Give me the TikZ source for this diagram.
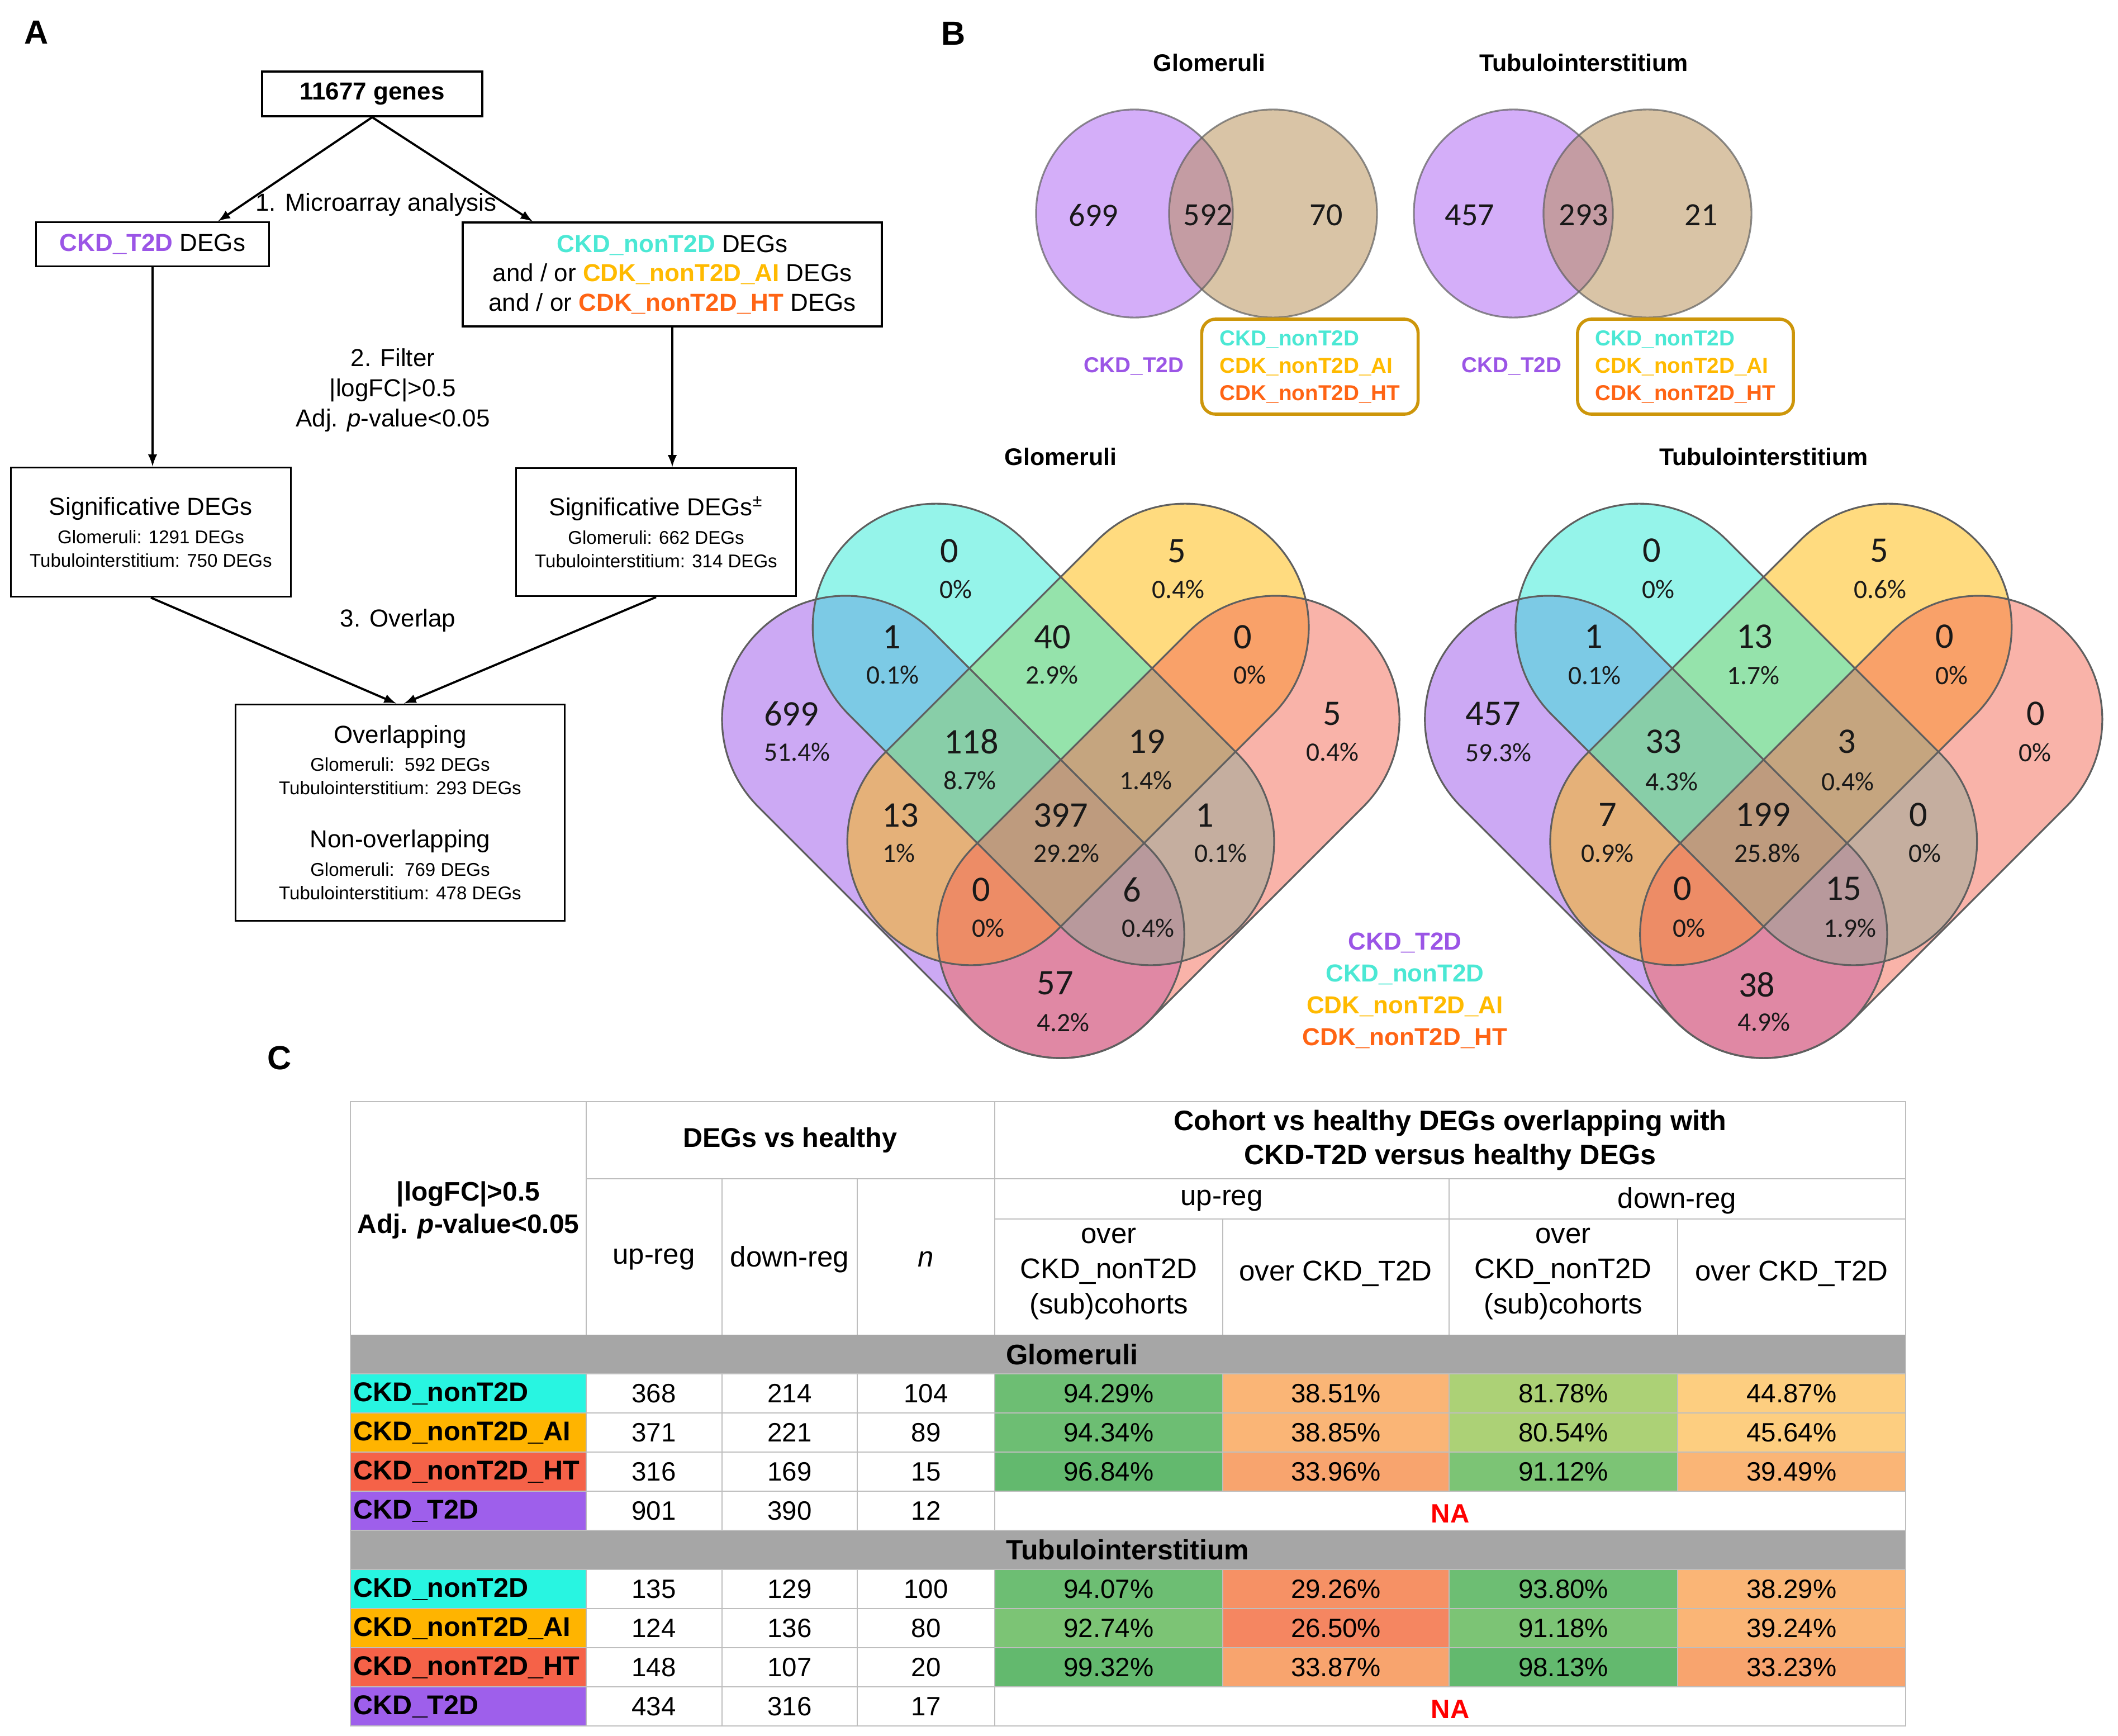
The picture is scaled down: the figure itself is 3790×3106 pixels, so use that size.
\documentclass[tikz,border=0pt]{standalone}
\usepackage{fontspec}
\setmainfont{Liberation Sans}
\newfontfamily\vennfont{Carlito}
\usetikzlibrary{arrows}

\definecolor{ckdtwo}{RGB}{155,85,230}
\definecolor{nontwo}{RGB}{75,232,212}
\definecolor{nonai}{RGB}{255,186,0}
\definecolor{nonht}{RGB}{255,100,20}
\definecolor{lobepurple}{RGB}{155,85,235}
\definecolor{lobeyellow}{RGB}{255,185,0}
\definecolor{lobecyan}{RGB}{45,235,215}
\definecolor{lobesalmon}{RGB}{245,105,85}
\definecolor{lobegray}{RGB}{95,95,95}
\definecolor{ovpurple}{RGB}{171,95,245}
\definecolor{ovtan}{RGB}{181,139,79}
\definecolor{legbox}{RGB}{205,150,10}
\definecolor{numtext}{RGB}{25,25,25}
\definecolor{gridcol}{RGB}{190,190,190}
\definecolor{band}{RGB}{166,166,166}
\definecolor{cellcyan}{RGB}{40,245,225}
\definecolor{cellamber}{RGB}{255,180,0}
\definecolor{cellred}{RGB}{245,98,72}
\definecolor{cellpurple}{RGB}{158,95,235}
\definecolor{pcA}{RGB}{99,185,110}
\definecolor{pcB}{RGB}{109,190,115}
\definecolor{pcC}{RGB}{124,196,117}
\definecolor{pcD}{RGB}{172,209,118}
\definecolor{pcE}{RGB}{253,206,128}
\definecolor{pcF}{RGB}{250,181,118}
\definecolor{pcG}{RGB}{248,164,110}
\definecolor{pcH}{RGB}{246,145,101}
\definecolor{pcI}{RGB}{245,134,97}

\tikzset{
  box/.style={draw, line width=1pt, inner sep=0pt, align=center},
  arrow/.style={-latex, line width=1.1pt},
  smalltxt/.style={font=\fontsize{9.4}{12}\selectfont},
  panel/.style={font=\bfseries\fontsize{17}{20}\selectfont},
  vtitle/.style={font=\bfseries\fontsize{12.2}{15}\selectfont},
  lobeline/.style={draw=lobegray, line width=0.9pt},
  vnum/.style={font=\vennfont\fontsize{18.3}{20}\selectfont, text=numtext},
  vpct/.style={font=\vennfont\fontsize{13.5}{15}\selectfont, text=numtext},
  twonum/.style={font=\vennfont\fontsize{16.5}{18}\selectfont, text=numtext},
  twoleg/.style={font=\bfseries\fontsize{11}{13.9}\selectfont},
  gridline/.style={draw=gridcol, line width=0.8pt},
  cell/.style={minimum height=0.70cm, inner sep=0pt, font=\fontsize{13.5}{16}\selectfont},
  rowlab/.style={minimum width=4.22cm, minimum height=0.70cm, inner sep=0pt, text width=4.1cm, align=left, font=\bfseries\fontsize{13.8}{16}\selectfont},
  head/.style={font=\fontsize{14.5}{17.9}\selectfont, align=center},
  headbold/.style={font=\bfseries\fontsize{14.3}{17.3}\selectfont, align=center}
}

% one lobe of the four-set diagram: style, centre, angle, half length, radius
\newcommand{\lobe}[5]{%
  \path[#1, shift={#2}, rotate=#3] (-#4,-#5) -- (#4,-#5)
    arc[start angle=-90, end angle=90, radius=#5] -- (-#4,#5)
    arc[start angle=90, end angle=270, radius=#5] -- cycle;}

\begin{document}
\begin{tikzpicture}[x=0.01cm, y=-0.01cm, font=\fontsize{12.5}{14.9}\selectfont]

	\fill[white] (0,0) rectangle (3790,3106);
	\useasboundingbox (0,0) rectangle (3790,3106);

	% ---------- A: workflow
	\node[panel] (labA) at (65,58) {A};

	\node[box, minimum width=3.94cm, minimum height=0.80cm, font=\bfseries\fontsize{12.5}{15}\selectfont] (genes) at (666,168) {11677 genes};
	\node[box, minimum width=4.17cm, minimum height=0.79cm] (t2d) at (273,437) {\textcolor{ckdtwo}{\bfseries CKD\_T2D} DEGs};
	\node[box, minimum width=7.50cm, minimum height=1.86cm] (nont2d) at (1203,491) {\textcolor{nontwo}{\bfseries CKD\_nonT2D} DEGs\\ and / or \textcolor{nonai}{\bfseries CDK\_nonT2D\_AI} DEGs\\ and / or \textcolor{nonht}{\bfseries CDK\_nonT2D\_HT} DEGs};

	\node[box, smalltxt, minimum width=5.01cm, minimum height=2.31cm] (sigl) at (270,952) {{\fontsize{12.5}{14.9}\selectfont Significative DEGs}\\[2.5pt] Glomeruli: 1291 DEGs\\ Tubulointerstitium: 750 DEGs};
	\node[box, smalltxt, minimum width=5.01cm, minimum height=2.29cm] (sigr) at (1174,952) {{\fontsize{12.5}{14.9}\selectfont Significative DEGs\textsuperscript{±}}\\[2.5pt] Glomeruli: 662 DEGs\\ Tubulointerstitium: 314 DEGs};
	\node[box, smalltxt, minimum width=5.89cm, minimum height=3.87cm] (ov) at (716,1454) {{\fontsize{12.5}{14.9}\selectfont Overlapping}\\[2pt] Glomeruli:~~592 DEGs\\ Tubulointerstitium: 293 DEGs\\[15pt] {\fontsize{12.5}{14.9}\selectfont Non-overlapping}\\[2.5pt] Glomeruli:~~769 DEGs\\ Tubulointerstitium: 478 DEGs};

	\draw[arrow] (genes.south) -- ([xshift=-0.93cm]t2d.north east);
	\draw[arrow] (genes.south) -- ([xshift=1.27cm]nont2d.north west);
	\draw[arrow] (t2d.south) -- (t2d.south |- sigl.north);
	\draw[arrow] (nont2d.south) -- (nont2d.south |- sigr.north);
	\draw[arrow] (sigl.south) -- ([xshift=-0.07cm]ov.north);
	\draw[arrow] (sigr.south) -- ([xshift=0.07cm]ov.north);

	\node (step1) at (673,366) {1. Microarray analysis};
	\node[align=center, font=\fontsize{12.5}{15.3}\selectfont] (step2) at (703,698) {2. Filter\\|logFC|>0.5\\Adj. \textit{p}-value<0.05};
	\node (step3) at (712,1110) {3. Overlap};

	% ---------- B: two-set diagrams
	\node[panel] (labB) at (1706,60) {B};
	\node[vtitle] (gtitle) at (2164,112) {Glomeruli};
	\node[vtitle] (ttitle) at (2834,112) {Tubulointerstitium};

	\fill[ovpurple, fill opacity=.5] (2030,382) ellipse [x radius=1.76cm, y radius=1.86cm];
	\fill[ovtan, fill opacity=.5] (2278,382) ellipse [x radius=1.86cm, y radius=1.86cm];
	\draw[lobeline, draw opacity=.7] (2030,382) ellipse [x radius=1.76cm, y radius=1.86cm];
	\draw[lobeline, draw opacity=.7] (2278,382) ellipse [x radius=1.86cm, y radius=1.86cm];
	\fill[ovpurple, fill opacity=.5] (2708,382) ellipse [x radius=1.78cm, y radius=1.86cm];
	\fill[ovtan, fill opacity=.5] (2948,382) ellipse [x radius=1.86cm, y radius=1.86cm];
	\draw[lobeline, draw opacity=.7] (2708,382) ellipse [x radius=1.78cm, y radius=1.86cm];
	\draw[lobeline, draw opacity=.7] (2948,382) ellipse [x radius=1.86cm, y radius=1.86cm];

	\node[twonum] (g2a) at (1957,385) {699};
	\node[twonum] (g2ab) at (2162,385) {592};
	\node[twonum] (g2b) at (2373,385) {70};
	\node[twonum] (t2a) at (2630,385) {457};
	\node[twonum] (t2ab) at (2834,385) {293};
	\node[twonum] (t2b) at (3044,385) {21};

	\node[twoleg, text=ckdtwo] (g2leg) at (2029,655) {CKD\_T2D};
	\node[twoleg, draw=legbox, line width=1.6pt, rounded corners=0.25cm, minimum width=3.87cm, minimum height=1.70cm, align=left] (g2box) at (2344,656) {\textcolor{nontwo}{CKD\_nonT2D}\\ \textcolor{nonai}{CDK\_nonT2D\_AI}\\ \textcolor{nonht}{CDK\_nonT2D\_HT}};
	\node[twoleg, text=ckdtwo] (t2leg) at (2705,655) {CKD\_T2D};
	\node[twoleg, draw=legbox, line width=1.6pt, rounded corners=0.25cm, minimum width=3.86cm, minimum height=1.70cm, align=left] (t2box) at (3016,656) {\textcolor{nontwo}{CKD\_nonT2D}\\ \textcolor{nonai}{CDK\_nonT2D\_AI}\\ \textcolor{nonht}{CDK\_nonT2D\_HT}};

	% ---------- B: four-set diagram, glomeruli
	\begin{scope}[xshift=18.97cm]
		\node[vtitle] (g4title) at (0,817) {Glomeruli};
		\lobe{fill=lobepurple, fill opacity=.5}{(-192.5,1479.5)}{-45}{2.72cm}{2.21cm}
		\lobe{fill=lobeyellow, fill opacity=.5}{(31,1314)}{45}{2.71cm}{2.21cm}
		\lobe{fill=lobecyan, fill opacity=.5}{(-31,1314)}{-45}{2.71cm}{2.21cm}
		\lobe{fill=lobesalmon, fill opacity=.5}{(192.5,1479.5)}{45}{2.72cm}{2.21cm}
		\lobe{lobeline}{(-192.5,1479.5)}{-45}{2.72cm}{2.21cm}
		\lobe{lobeline}{(31,1314)}{45}{2.71cm}{2.21cm}
		\lobe{lobeline}{(-31,1314)}{-45}{2.71cm}{2.21cm}
		\lobe{lobeline}{(192.5,1479.5)}{45}{2.72cm}{2.21cm}

		\node[vnum] (g-c) at (-199,986) {0};
		\node[vpct] (g-cp) at (-188,1054) {0\%};
		\node[vnum] (g-y) at (208,986) {5};
		\node[vpct] (g-yp) at (210,1054) {0.4\%};
		\node[vnum] (g-pc) at (-302,1140) {1};
		\node[vpct] (g-pcp) at (-301,1207) {0.1\%};
		\node[vnum] (g-cy) at (-15,1140) {40};
		\node[vpct] (g-cyp) at (-16,1207) {2.9\%};
		\node[vnum] (g-ys) at (326,1140) {0};
		\node[vpct] (g-ysp) at (338,1207) {0\%};
		\node[vnum] (g-p) at (-482,1277) {699};
		\node[vpct] (g-pp) at (-472,1345) {51.4\%};
		\node[vnum] (g-s) at (486,1277) {5};
		\node[vpct] (g-sp) at (486,1345) {0.4\%};
		\node[vnum] (g-pcy) at (-160,1327) {118};
		\node[vpct] (g-pcyp) at (-163,1396) {8.7\%};
		\node[vnum] (g-cys) at (154,1327) {19};
		\node[vpct] (g-cysp) at (152,1396) {1.4\%};
		\node[vnum] (g-py) at (-287,1459) {13};
		\node[vpct] (g-pyp) at (-290,1526) {1\%};
		\node[vnum] (g-all) at (0,1459) {397};
		\node[vpct] (g-allp) at (10,1526) {29.2\%};
		\node[vnum] (g-cs) at (258,1459) {1};
		\node[vpct] (g-csp) at (286,1526) {0.1\%};
		\node[vnum] (g-pys) at (-142,1592) {0};
		\node[vpct] (g-pysp) at (-130,1660) {0\%};
		\node[vnum] (g-pcs) at (128,1592) {6};
		\node[vpct] (g-pcsp) at (156,1660) {0.4\%};
		\node[vnum] (g-ps) at (-10,1759) {57};
		\node[vpct] (g-psp) at (4,1829) {4.2\%};
	\end{scope}

	% ---------- B: four-set diagram, tubulointerstitium
	\begin{scope}[xshift=31.54cm]
		\node[vtitle] (t4title) at (0,817) {Tubulointerstitium};
		\lobe{fill=lobepurple, fill opacity=.5}{(-192.5,1479.5)}{-45}{2.72cm}{2.21cm}
		\lobe{fill=lobeyellow, fill opacity=.5}{(31,1314)}{45}{2.71cm}{2.21cm}
		\lobe{fill=lobecyan, fill opacity=.5}{(-31,1314)}{-45}{2.71cm}{2.21cm}
		\lobe{fill=lobesalmon, fill opacity=.5}{(192.5,1479.5)}{45}{2.72cm}{2.21cm}
		\lobe{lobeline}{(-192.5,1479.5)}{-45}{2.72cm}{2.21cm}
		\lobe{lobeline}{(31,1314)}{45}{2.71cm}{2.21cm}
		\lobe{lobeline}{(-31,1314)}{-45}{2.71cm}{2.21cm}
		\lobe{lobeline}{(192.5,1479.5)}{45}{2.72cm}{2.21cm}

		\node[vnum] (t-c) at (-200,985) {0};
		\node[vpct] (t-cp) at (-188,1054) {0\%};
		\node[vnum] (t-y) at (207,985) {5};
		\node[vpct] (t-yp) at (209,1054) {0.6\%};
		\node[vnum] (t-pc) at (-304,1139) {1};
		\node[vpct] (t-pcp) at (-302,1208) {0.1\%};
		\node[vnum] (t-cy) at (-16,1139) {13};
		\node[vpct] (t-cyp) at (-18,1208) {1.7\%};
		\node[vnum] (t-ys) at (324,1139) {0};
		\node[vpct] (t-ysp) at (337,1208) {0\%};
		\node[vnum] (t-p) at (-484,1277) {457};
		\node[vpct] (t-pp) at (-474,1346) {59.3\%};
		\node[vnum] (t-s) at (487,1277) {0};
		\node[vpct] (t-sp) at (486,1346) {0\%};
		\node[vnum] (t-pcy) at (-179,1327) {33};
		\node[vpct] (t-pcyp) at (-164,1398) {4.3\%};
		\node[vnum] (t-cys) at (149,1327) {3};
		\node[vpct] (t-cysp) at (151,1398) {0.4\%};
		\node[vnum] (t-py) at (-279,1458) {7};
		\node[vpct] (t-pyp) at (-279,1526) {0.9\%};
		\node[vnum] (t-all) at (-1,1458) {199};
		\node[vpct] (t-allp) at (7,1526) {25.8\%};
		\node[vnum] (t-cs) at (277,1458) {0};
		\node[vpct] (t-csp) at (289,1526) {0\%};
		\node[vnum] (t-pys) at (-145,1590) {0};
		\node[vpct] (t-pysp) at (-133,1660) {0\%};
		\node[vnum] (t-pcs) at (143,1590) {15};
		\node[vpct] (t-pcsp) at (155,1660) {1.9\%};
		\node[vnum] (t-ps) at (-12,1762) {38};
		\node[vpct] (t-psp) at (1,1828) {4.9\%};
	\end{scope}

	\node[align=center, font=\bfseries\fontsize{12.5}{16.2}\selectfont] (vleg) at (2514,1772) {\textcolor{ckdtwo}{CKD\_T2D}\\ \textcolor{nontwo}{CKD\_nonT2D}\\ \textcolor{nonai}{CDK\_nonT2D\_AI}\\ \textcolor{nonht}{CDK\_nonT2D\_HT}};

	% ---------- C: table
	\node[panel] (labC) at (500,1893) {C};

	\fill[band] (627,2388) rectangle (3410,2458);
	\fill[band] (627,2738) rectangle (3410,2808);

	\node[headbold, font=\bfseries\fontsize{13.6}{16.7}\selectfont] (hlog) at (838,2165) {|logFC|>0.5\\Adj. \textit{p}-value<0.05};
	\node[headbold, font=\bfseries\fontsize{13.8}{16}\selectfont] (hdegs) at (1414,2040) {DEGs vs healthy};
	\node[headbold] (hcoh) at (2595,2040) {Cohort vs healthy DEGs overlapping with\\CKD-T2D versus healthy DEGs};
	\node[head] (hup) at (2186,2148) {up-reg};
	\node[head] (hdown) at (3001,2148) {down-reg};
	\node[head] (hup2) at (1170,2253) {up-reg};
	\node[head] (hdown2) at (1413,2253) {down-reg};
	\node[head] (hn) at (1657,2253) {\textit{n}};
	\node[head] (ho1) at (1984,2279) {over\\CKD\_nonT2D\\(sub)cohorts};
	\node[head] (ho2) at (2390,2279) {over CKD\_T2D};
	\node[head] (ho3) at (2797,2279) {over\\CKD\_nonT2D\\(sub)cohorts};
	\node[head] (ho4) at (3206,2279) {over CKD\_T2D};

	\node[anchor=west, font=\bfseries\fontsize{14.4}{16}\selectfont] (gband) at (1788,2423) {Glomeruli};
	\node[anchor=west, font=\bfseries\fontsize{14.2}{16}\selectfont] (tband) at (1788,2773) {Tubulointerstitium};

	% glomeruli rows
	\node[rowlab, fill=cellcyan] (g1) at (838,2493) {CKD\_nonT2D};
	\node[cell] (g1u) at (1170,2493) {368};
	\node[cell] (g1d) at (1413,2493) {214};
	\node[cell] (g1n) at (1657,2493) {104};
	\node[cell, fill=pcB, minimum width=4.08cm] (g1a) at (1984,2493) {94.29\%};
	\node[cell, fill=pcF, minimum width=4.05cm] (g1b) at (2390.5,2493) {38.51\%};
	\node[cell, fill=pcD, minimum width=4.09cm] (g1c) at (2797.5,2493) {81.78\%};
	\node[cell, fill=pcE, minimum width=4.08cm] (g1e) at (3206,2493) {44.87\%};

	\node[rowlab, fill=cellamber] (g2) at (838,2563) {CKD\_nonT2D\_AI};
	\node[cell] (g2u) at (1170,2563) {371};
	\node[cell] (g2d) at (1413,2563) {221};
	\node[cell] (g2n) at (1657,2563) {89};
	\node[cell, fill=pcB, minimum width=4.08cm] (g2a) at (1984,2563) {94.34\%};
	\node[cell, fill=pcF, minimum width=4.05cm] (g2b) at (2390.5,2563) {38.85\%};
	\node[cell, fill=pcD, minimum width=4.09cm] (g2c) at (2797.5,2563) {80.54\%};
	\node[cell, fill=pcE, minimum width=4.08cm] (g2e) at (3206,2563) {45.64\%};

	\node[rowlab, fill=cellred] (g3) at (838,2633) {CKD\_nonT2D\_HT};
	\node[cell] (g3u) at (1170,2633) {316};
	\node[cell] (g3d) at (1413,2633) {169};
	\node[cell] (g3n) at (1657,2633) {15};
	\node[cell, fill=pcA, minimum width=4.08cm] (g3a) at (1984,2633) {96.84\%};
	\node[cell, fill=pcG, minimum width=4.05cm] (g3b) at (2390.5,2633) {33.96\%};
	\node[cell, fill=pcC, minimum width=4.09cm] (g3c) at (2797.5,2633) {91.12\%};
	\node[cell, fill=pcF, minimum width=4.08cm] (g3e) at (3206,2633) {39.49\%};

	\node[rowlab, fill=cellpurple] (g4) at (838,2703) {CKD\_T2D};
	\node[cell] (g4u) at (1170,2703) {901};
	\node[cell] (g4d) at (1413,2703) {390};
	\node[cell] (g4n) at (1657,2703) {12};
	\node[cell, text=red, font=\bfseries\fontsize{13.5}{16}\selectfont] (g4na) at (2595,2708) {NA};

	% tubulointerstitium rows
	\node[rowlab, fill=cellcyan] (t1) at (838,2843) {CKD\_nonT2D};
	\node[cell] (t1u) at (1170,2843) {135};
	\node[cell] (t1d) at (1413,2843) {129};
	\node[cell] (t1n) at (1657,2843) {100};
	\node[cell, fill=pcB, minimum width=4.08cm] (t1a) at (1984,2843) {94.07\%};
	\node[cell, fill=pcH, minimum width=4.05cm] (t1b) at (2390.5,2843) {29.26\%};
	\node[cell, fill=pcB, minimum width=4.09cm] (t1c) at (2797.5,2843) {93.80\%};
	\node[cell, fill=pcF, minimum width=4.08cm] (t1e) at (3206,2843) {38.29\%};

	\node[rowlab, fill=cellamber] (t2) at (838,2913) {CKD\_nonT2D\_AI};
	\node[cell] (t2u) at (1170,2913) {124};
	\node[cell] (t2d) at (1413,2913) {136};
	\node[cell] (t2n) at (1657,2913) {80};
	\node[cell, fill=pcC, minimum width=4.08cm] (t2a) at (1984,2913) {92.74\%};
	\node[cell, fill=pcI, minimum width=4.05cm] (t2b) at (2390.5,2913) {26.50\%};
	\node[cell, fill=pcC, minimum width=4.09cm] (t2c) at (2797.5,2913) {91.18\%};
	\node[cell, fill=pcF, minimum width=4.08cm] (t2e) at (3206,2913) {39.24\%};

	\node[rowlab, fill=cellred] (t3) at (838,2983) {CKD\_nonT2D\_HT};
	\node[cell] (t3u) at (1170,2983) {148};
	\node[cell] (t3d) at (1413,2983) {107};
	\node[cell] (t3n) at (1657,2983) {20};
	\node[cell, fill=pcA, minimum width=4.08cm] (t3a) at (1984,2983) {99.32\%};
	\node[cell, fill=pcG, minimum width=4.05cm] (t3b) at (2390.5,2983) {33.87\%};
	\node[cell, fill=pcA, minimum width=4.09cm] (t3c) at (2797.5,2983) {98.13\%};
	\node[cell, fill=pcG, minimum width=4.08cm] (t3e) at (3206,2983) {33.23\%};

	\node[rowlab, fill=cellpurple] (t4) at (838,3053) {CKD\_T2D};
	\node[cell] (t4u) at (1170,3053) {434};
	\node[cell] (t4d) at (1413,3053) {316};
	\node[cell] (t4n) at (1657,3053) {17};
	\node[cell, text=red, font=\bfseries\fontsize{13.5}{16}\selectfont] (t4na) at (2595,3058) {NA};

	% rules
	\draw[gridline] (627,1971) rectangle (3410,3088);
	\draw[gridline] (1049,2109) -- (3410,2109) (1780,2181) -- (3410,2181);
	\draw[gridline] (627,2458) -- (3410,2458) (627,2528) -- (3410,2528) (627,2598) -- (3410,2598) (627,2668) -- (3410,2668) (627,2738) -- (3410,2738);
	\draw[gridline] (627,2808) -- (3410,2808) (627,2878) -- (3410,2878) (627,2948) -- (3410,2948) (627,3018) -- (3410,3018);
	\draw[gridline] (1049,1971) -- (1049,2388) (1049,2458) -- (1049,2738) (1049,2808) -- (1049,3088);
	\draw[gridline] (1292,2109) -- (1292,2388) (1292,2458) -- (1292,2738) (1292,2808) -- (1292,3088);
	\draw[gridline] (1534,2109) -- (1534,2388) (1534,2458) -- (1534,2738) (1534,2808) -- (1534,3088);
	\draw[gridline] (1780,1971) -- (1780,2388) (1780,2458) -- (1780,2738) (1780,2808) -- (1780,3088);
	\draw[gridline] (2188,2181) -- (2188,2388) (2188,2458) -- (2188,2668) (2188,2808) -- (2188,3018);
	\draw[gridline] (2593,2109) -- (2593,2388) (2593,2458) -- (2593,2668) (2593,2808) -- (2593,3018);
	\draw[gridline] (3002,2181) -- (3002,2388) (3002,2458) -- (3002,2668) (3002,2808) -- (3002,3018);

\end{tikzpicture}
\end{document}
